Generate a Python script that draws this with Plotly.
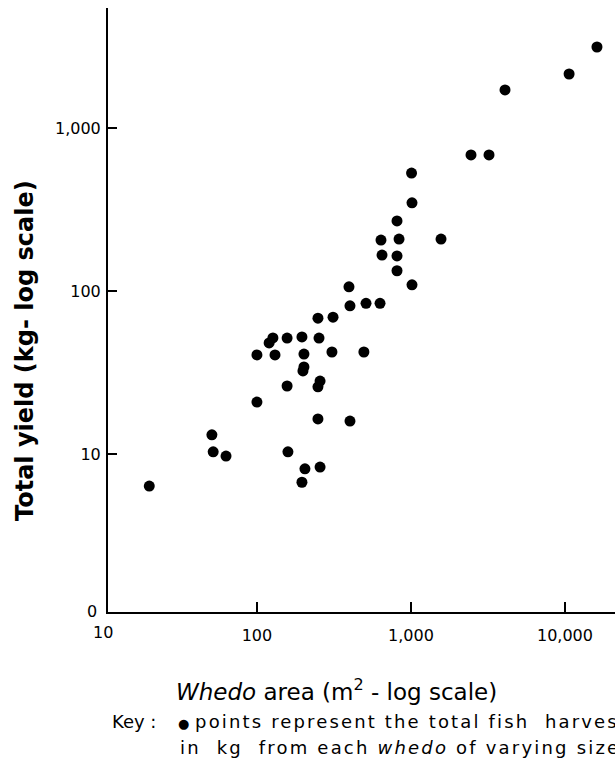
import plotly.graph_objects as go

# Whedo (fish pond) area in m^2 and total fish yield in kg, one entry per whedo
area_m2 = [20, 51, 52, 63, 100, 100, 120, 127, 131, 157, 196, 202, 202, 199,
           157, 159, 205, 196, 249, 312, 402, 511, 630, 253, 307, 495, 257,
           249, 249, 402, 257, 396, 1016, 639, 837, 1568, 649, 812, 812, 812,
           1016, 1009, 2455, 3214, 4083, 10640, 16140]
yield_kg = [6.35, 13.1, 10.3, 9.7, 20.8, 40.5, 48, 51.5, 40.5, 51.4, 52.2, 41,
            34.2, 32.3, 26.1, 10.3, 8.1, 6.7, 68, 69, 81, 84, 84, 51.4, 42.2,
            42.2, 28, 25.8, 16.4, 15.9, 8.3, 106, 109, 205, 208, 208, 166, 164,
            133, 269, 347, 529, 683, 683, 1710, 2143, 3138]

x_tick_vals = [10, 100, 1000, 10000]
x_tick_text = ["10", "100", "1,000", "10,000"]
y_tick_vals = [1, 10, 100, 1000]
y_tick_text = ["0", "10", "100", "1,000"]

FONT = "DejaVu Sans"
TICK_SIZE = 16
W, H = 615, 769
L, R, T, B = 108, 0, 8, 157
PW, PH = W - L - R, H - T - B

X_RANGE = [1.033, 4.325]
Y_RANGE = [0.030, 3.736]


def px_x(px):
    return (px - L) / PW


def px_y(py):
    return (H - B - py) / PH


def spaced(text, px):
    return f"<span style='letter-spacing:{px}px'>{text}</span>"


fig = go.Figure(go.Scatter(
    x=area_m2, y=yield_kg, mode="markers",
    marker=dict(color="black", size=11, line=dict(width=0)),
    cliponaxis=False, showlegend=False,
))

axis_common = dict(
    type="log", showgrid=False, zeroline=False, showline=True,
    linecolor="black", linewidth=2, ticks="inside", tickwidth=2,
    tickcolor="black", tickfont=dict(family=FONT, size=TICK_SIZE, color="black"),
    mirror=False,
)

# first tick of each axis lies just outside the plotted range
in_x = [(v, t) for v, t in zip(x_tick_vals, x_tick_text) if v > 10 ** X_RANGE[0]]
in_y = [(v, t) for v, t in zip(y_tick_vals, y_tick_text) if v > 10 ** Y_RANGE[0]]

fig.update_xaxes(range=X_RANGE, ticklen=10, ticklabelstandoff=8,
                 tickvals=[v for v, _ in in_x], ticktext=[t for _, t in in_x],
                 **axis_common)
fig.update_yaxes(range=Y_RANGE, ticklen=9, ticklabelstandoff=2,
                 tickvals=[v for v, _ in in_y], ticktext=[t for _, t in in_y],
                 **axis_common)

tick_font = dict(family=FONT, size=TICK_SIZE, color="black")
annotations = [
    # edge tick labels
    dict(text=x_tick_text[0], xref="paper", yref="paper", x=px_x(103),
         y=px_y(632), xanchor="center", yanchor="middle",
         font=tick_font, showarrow=False),
    dict(text=y_tick_text[0], xref="paper", yref="paper", x=px_x(99),
         y=px_y(611), xanchor="right", yanchor="middle",
         font=tick_font, showarrow=False),
    # axis titles
    dict(text="Total yield (kg- log scale)", xref="paper", yref="paper",
         x=px_x(25), y=px_y(351), textangle=-90, showarrow=False,
         xanchor="center", yanchor="middle",
         font=dict(family=FONT, size=24, color="black", weight="bold")),
    dict(text="<i>Whedo</i> area (m<sup>2</sup> - log scale)", xref="paper",
         yref="paper", x=px_x(336), y=px_y(690), showarrow=False,
         xanchor="center", yanchor="middle",
         font=dict(family=FONT, size=23, color="black")),
    # key
    dict(text="Key :", xref="paper", yref="paper", x=px_x(110), y=px_y(721),
         xanchor="left", yanchor="middle", showarrow=False,
         font=dict(family=FONT, size=18, color="black")),
    dict(text="<span style='font-size:13px'>●</span> "
              + spaced("points represent the total fish  harvest", 2.15),
         xref="paper", yref="paper", x=px_x(176), y=px_y(721),
         xanchor="left", yanchor="middle", showarrow=False,
         font=dict(family=FONT, size=18, color="black")),
    dict(text=spaced("in  kg  from each <i>whedo</i> of varying size", 2.2),
         xref="paper", yref="paper", x=px_x(178), y=px_y(747),
         xanchor="left", yanchor="middle", showarrow=False,
         font=dict(family=FONT, size=18, color="black")),
]

fig.update_layout(
    width=W, height=H,
    margin=dict(l=L, r=R, t=T, b=B, pad=0),
    paper_bgcolor="white", plot_bgcolor="white",
    annotations=annotations,
)

fig.write_html("out.html", config={"displayModeBar": False})
